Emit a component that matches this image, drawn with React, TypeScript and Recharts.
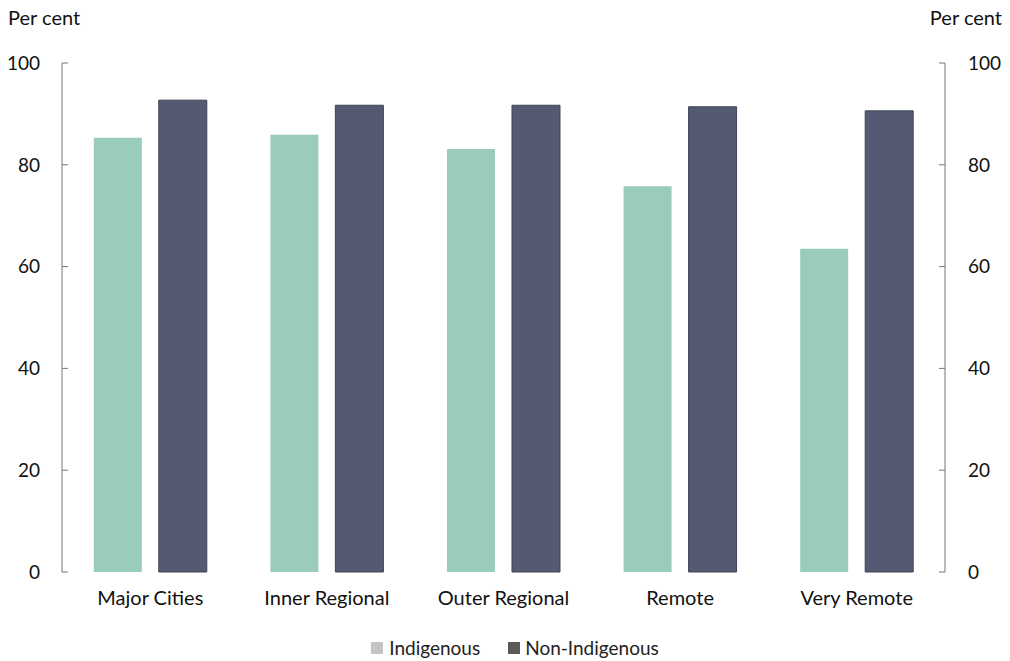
import React from 'react';
import { ComposedChart, Bar, Line, XAxis, YAxis, Legend } from 'recharts';

const regions = ['Major Cities', 'Inner Regional', 'Outer Regional', 'Remote', 'Very Remote'];
const indigenous = [85.3, 85.9, 83.1, 75.8, 63.5];
const nonIndigenous = [92.7, 91.7, 91.7, 91.4, 90.6];
const yTicks = [0, 20, 40, 60, 80, 100];
const boundaryTicks = [0, 1, 2, 3, 4, 5];

const data = regions.map((region, i) => ({
  region,
  pos: i + 0.5,
  indigenous: indigenous[i],
  nonIndigenous: nonIndigenous[i],
}));

const FONT = 'Lato, "Open Sans", sans-serif';
const TEAL = '#99CDB9';
const NAVY = '#535A72';

const LegendContent = () => (
  <div style={{ display: 'flex', justifyContent: 'center', gap: 28, fontFamily: FONT, fontSize: 19, color: '#222', paddingLeft: 20, paddingTop: 6 }}>
    <span style={{ display: 'flex', alignItems: 'center' }}>
      <span style={{ width: 12, height: 12, background: '#c4c4c4', marginRight: 6, display: 'inline-block' }} />
      Indigenous
    </span>
    <span style={{ display: 'flex', alignItems: 'center' }}>
      <span style={{ width: 12, height: 12, background: '#5a5a5a', marginRight: 5, display: 'inline-block' }} />
      Non-Indigenous
    </span>
  </div>
);

export default function App() {
  return (
    <div style={{ position: 'fixed', top: 0, left: 0, width: 1010, height: 661, background: '#fff', fontFamily: FONT }}>
      <div style={{ position: 'absolute', left: 8, top: 5, fontSize: 20, color: '#111' }}>Per cent</div>
      <div style={{ position: 'absolute', right: 8, top: 5, fontSize: 20, color: '#111' }}>Per cent</div>
      <ComposedChart
        width={1010}
        height={661}
        data={data}
        margin={{ top: 63, right: 0, left: 0, bottom: 2 }}
        barCategoryGap="18%"
        barGap={17}
      >
        <XAxis
          xAxisId="edges"
          type="number"
          dataKey="pos"
          domain={[0, 5]}
          ticks={boundaryTicks}
          tick={false}
          tickSize={-6}
          tickLine={{ stroke: '#555' }}
          axisLine={{ stroke: '#555' }}
          height={0}
        />
        <XAxis
          dataKey="region"
          tickLine={false}
          axisLine={false}
          tickSize={0}
          tickMargin={19}
          height={58}
          tick={{ fill: '#111', fontSize: 20, fontFamily: FONT }}
        />
        <YAxis
          yAxisId="left"
          orientation="left"
          width={62}
          domain={[0, 100]}
          ticks={yTicks}
          tickSize={-6}
          tickMargin={28}
          axisLine={{ stroke: '#777' }}
          tickLine={{ stroke: '#777' }}
          tick={{ fill: '#111', fontSize: 19, fontFamily: FONT }}
        />
        <YAxis
          yAxisId="right"
          orientation="right"
          width={65}
          domain={[0, 100]}
          ticks={yTicks}
          tickSize={-6}
          tickMargin={29}
          axisLine={{ stroke: '#777' }}
          tickLine={{ stroke: '#777' }}
          tick={{ fill: '#111', fontSize: 19, fontFamily: FONT }}
        />
        <Legend verticalAlign="bottom" content={<LegendContent />} />
        <Bar yAxisId="left" dataKey="indigenous" name="Indigenous" fill={TEAL} isAnimationActive={false} />
        <Bar yAxisId="left" dataKey="nonIndigenous" name="Non-Indigenous" fill={NAVY} stroke="#3e4459" strokeWidth={1} isAnimationActive={false} />
        <Line yAxisId="right" dataKey="nonIndigenous" stroke="none" dot={false} activeDot={false} legendType="none" isAnimationActive={false} />
      </ComposedChart>
    </div>
  );
}
